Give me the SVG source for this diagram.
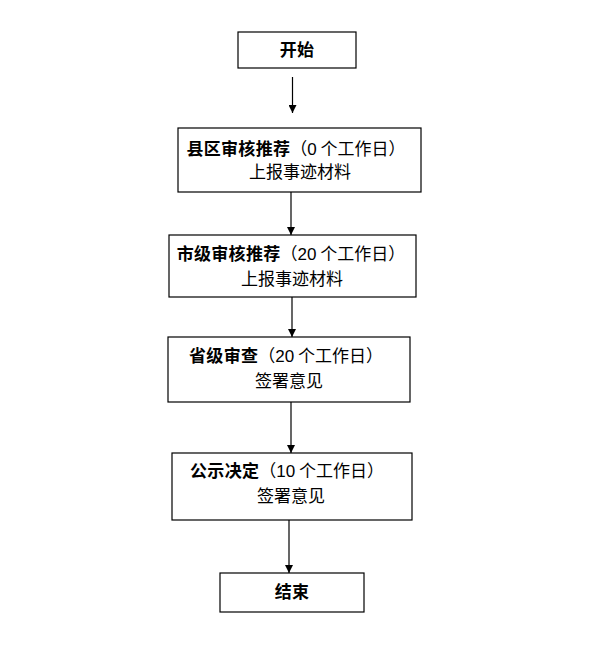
<svg xmlns="http://www.w3.org/2000/svg" width="595" height="659" viewBox="0 0 595 659">
<defs>
<marker id="ah" viewBox="0 0 10 10" refX="10" refY="5" markerWidth="8" markerHeight="8" markerUnits="userSpaceOnUse" orient="auto">
<path d="M0,0 L10,5 L0,10 z" fill="#000"/>
</marker>
</defs>
<style>
.box{fill:#fff;stroke:#000;stroke-width:1.2}
.t{font-family:"Noto Sans CJK SC","Liberation Sans",sans-serif;font-size:17px;fill:#000;text-anchor:middle}
.b{font-weight:bold;letter-spacing:0.3px}
.n{font-family:"Liberation Sans","Noto Sans CJK SC",sans-serif}
.c{stroke:#000;stroke-width:1.2;fill:none;marker-end:url(#ah)}
</style>
<rect width="595" height="659" fill="#fff"/>
<g id="connectors">
<line class="c" x1="292.5" y1="77" x2="292.5" y2="113"/>
<line class="c" x1="291" y1="192" x2="291" y2="235"/>
<line class="c" x1="292" y1="297" x2="292" y2="337"/>
<line class="c" x1="291" y1="402" x2="291" y2="453"/>
<line class="c" x1="289" y1="520" x2="289" y2="573"/>
</g>
<g id="start">
<rect class="box" x="238" y="32" width="118" height="36"/>
<text class="t b" x="297" y="56">开始</text>
</g>
<g id="county">
<rect class="box" x="178" y="128" width="243" height="64"/>
<text class="t" x="296" y="155"><tspan class="b">县区审核推荐</tspan>（<tspan class="n">0</tspan> 个工作日）</text>
<text class="t" x="300" y="178">上报事迹材料</text>
</g>
<g id="city">
<rect class="box" x="169" y="235" width="247" height="62"/>
<text class="t" x="291" y="260"><tspan class="b">市级审核推荐</tspan>（<tspan class="n">20</tspan> 个工作日）</text>
<text class="t" x="292" y="285">上报事迹材料</text>
</g>
<g id="province">
<rect class="box" x="168" y="337" width="242" height="65"/>
<text class="t" x="286" y="362"><tspan class="b">省级审查</tspan>（<tspan class="n">20</tspan> 个工作日）</text>
<text class="t" x="289" y="387">签署意见</text>
</g>
<g id="publicity">
<rect class="box" x="172" y="453" width="240" height="67"/>
<text class="t" x="287" y="477"><tspan class="b">公示决定</tspan>（<tspan class="n">10</tspan> 个工作日）</text>
<text class="t" x="291" y="502">签署意见</text>
</g>
<g id="end">
<rect class="box" x="220" y="573" width="144" height="39"/>
<text class="t b" x="292" y="598">结束</text>
</g>
</svg>
